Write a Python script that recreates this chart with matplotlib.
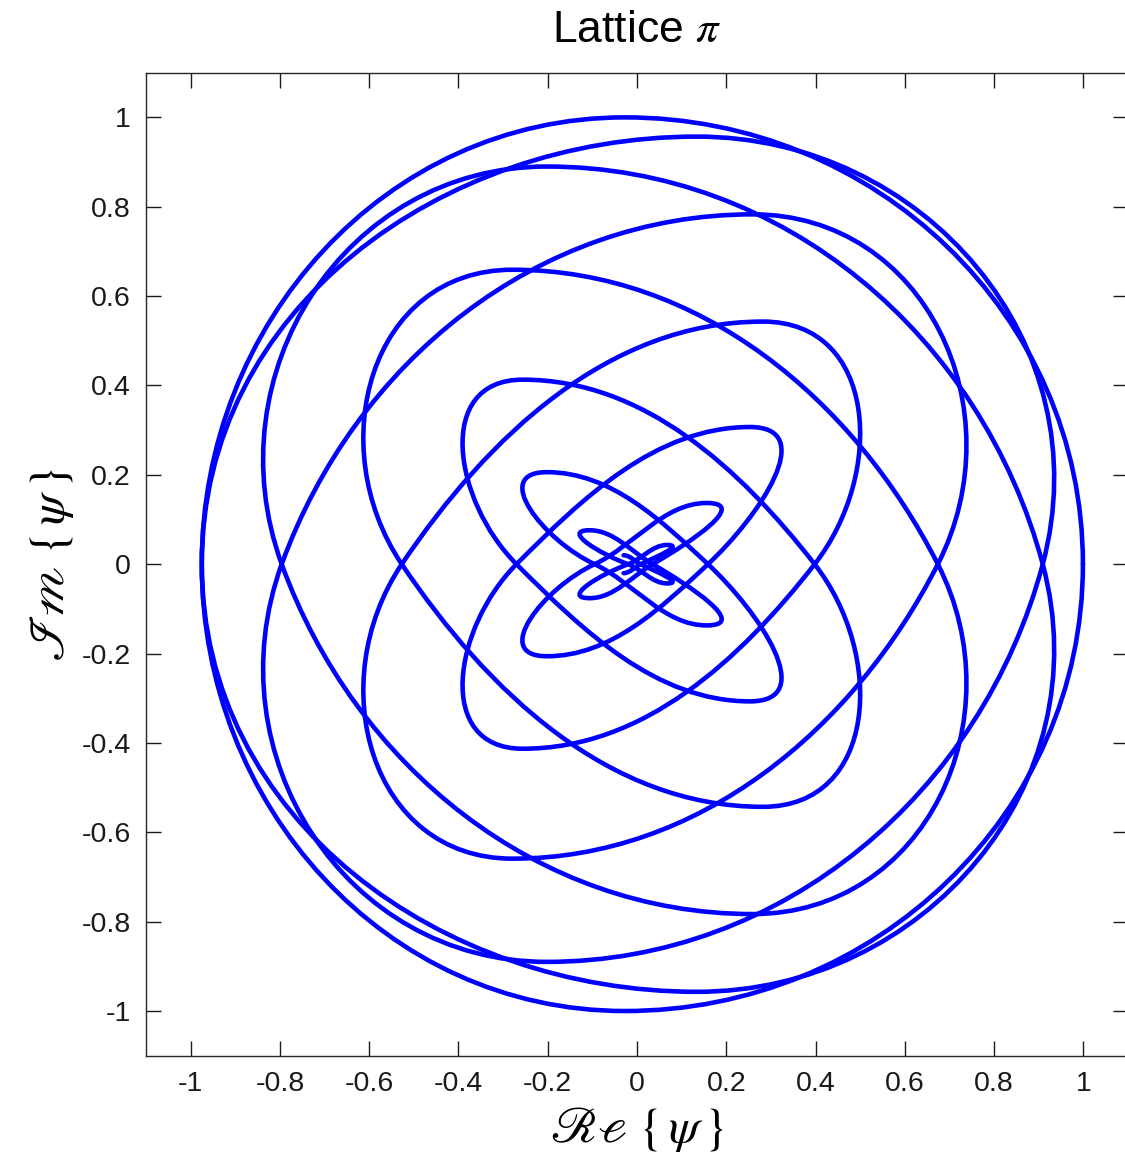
import numpy as np
import matplotlib
matplotlib.use("Agg")
import matplotlib.pyplot as plt
from matplotlib.path import Path
from matplotlib.patches import PathPatch

# ---- landmarks of the curve (upper-start branch) ----
# order along the curve: right crossing, top, left crossing, bottom, ...
pt_x = [0.999, -0.027, -0.975, 0.134,
        0.909, -0.202, -0.796, 0.259,
        0.674, -0.279, -0.527, 0.282,
        0.398, -0.256, -0.270, 0.253,
        0.159, -0.202, -0.095, 0.156,
        0.035, -0.106, -0.020, 0.067,
        0.008, -0.030]
pt_y = [0.0, 1.000, 0.0, -0.957,
        0.0, 0.890, 0.0, -0.783,
        0.0, 0.659, 0.0, -0.543,
        0.0, 0.413, 0.0, -0.307,
        0.0, 0.206, 0.0, -0.137,
        0.0, 0.076, 0.0, -0.043,
        0.0, 0.020]
# tangent direction (degrees) of the curve at each landmark
pt_dir = [90, 180, 270, 360,
          105, 180, 290, 360,
          117, 180, 304, 360,
          128, 180, 315, 360,
          137, 180, 335, 360,
          150, 180, 340, 360,
          155, 180]

x_ticks = [-1, -0.8, -0.6, -0.4, -0.2, 0, 0.2, 0.4, 0.6, 0.8, 1]
tick_labels = ['-1', '-0.8', '-0.6', '-0.4', '-0.2', '0', '0.2', '0.4', '0.6', '0.8', '1']


def branch_path(xs, ys, ds):
    verts = [(xs[0], ys[0])]
    codes = [Path.MOVETO]
    for i in range(len(xs) - 1):
        p0 = np.array([xs[i], ys[i]])
        p1 = np.array([xs[i + 1], ys[i + 1]])
        a0 = np.radians(ds[i])
        a1 = np.radians(ds[i + 1])
        th = (a1 - a0 + np.pi) % (2 * np.pi) - np.pi
        c = np.hypot(*(p1 - p0))
        if abs(th) > 1e-6:
            h = c * (2.0 / 3.0) * np.tan(th / 4) / np.sin(th / 2)
        else:
            h = c / 3.0
        u0 = np.array([np.cos(a0), np.sin(a0)])
        u1 = np.array([np.cos(a1), np.sin(a1)])
        verts += [tuple(p0 + h * u0), tuple(p1 - h * u1), tuple(p1)]
        codes += [Path.CURVE4] * 3
    return Path(verts, codes)


plt.rcParams['font.family'] = ['Liberation Sans', 'DejaVu Sans']
plt.rcParams['mathtext.fontset'] = 'stix'

fig = plt.figure(figsize=(11.25, 11.65), dpi=100)
ax = fig.add_axes([146 / 1125, 1 - 1055.7 / 1165, (1128 - 146) / 1125, (1055.7 - 72.7) / 1165])

blue = (0, 0, 1)
lw = 3.3
p_up = branch_path(pt_x, pt_y, pt_dir)
p_dn = branch_path(pt_x, [-v for v in pt_y], [-d for d in pt_dir])
for p in (p_up, p_dn):
    ax.add_patch(PathPatch(p, facecolor='none', edgecolor=blue, lw=lw,
                           capstyle='round', joinstyle='round'))

ax.set_xlim(-1.1, 1.1)
ax.set_ylim(-1.1, 1.1)
ax.set_xticks(x_ticks)
ax.set_xticklabels(tick_labels)
ax.set_yticks(x_ticks)
ax.set_yticklabels(tick_labels)
ax.tick_params(direction='in', length=10.5, width=1.0, top=True, right=True,
               labelsize=20.5, pad=11, colors='#1a1a1a')
for s in ax.spines.values():
    s.set_linewidth(1.0)
    s.set_color('#262626')

ax.set_title(r'Lattice $\pi$', fontsize=32, pad=22)
ax.set_xlabel(r'$\mathscr{Re}\;\{\,\psi\,\}$', fontsize=36, labelpad=6)
ax.set_ylabel(r'$\mathscr{Im}\;\{\,\psi\,\}$', fontsize=36, labelpad=4)

fig.savefig('out.png', dpi=100)
